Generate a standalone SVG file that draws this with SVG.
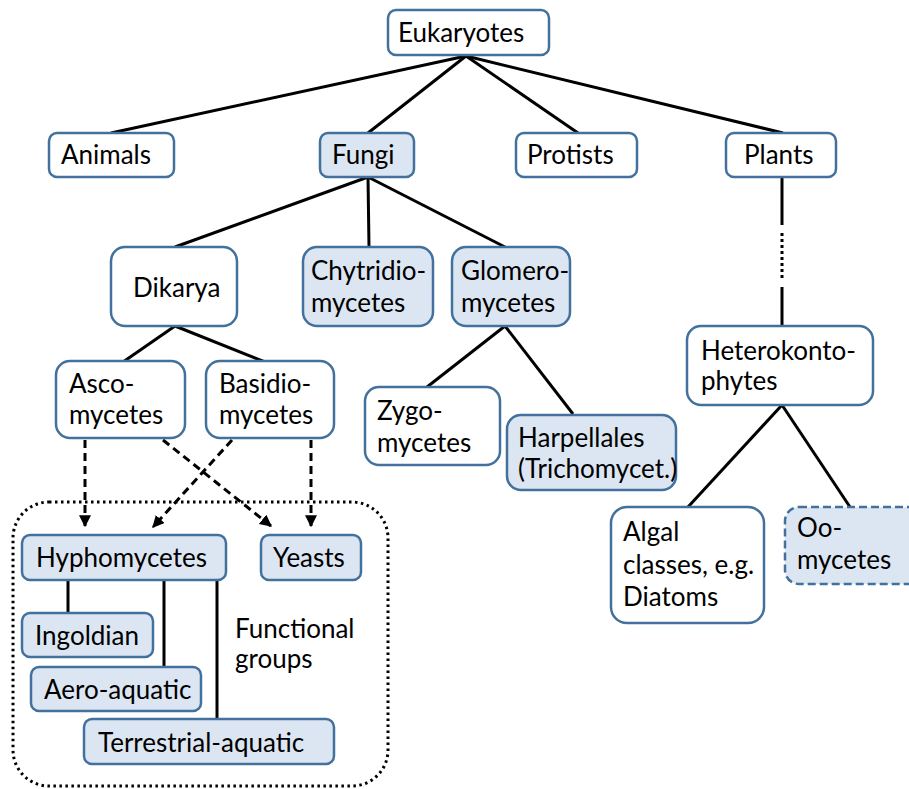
<svg xmlns="http://www.w3.org/2000/svg" width="909" height="789" viewBox="0 0 909 789">
<defs>
<style>
.b{fill:#ffffff;stroke:#41719c;stroke-width:2.5}
.f{fill:#dce6f2;stroke:#41719c;stroke-width:2.5}
.d{fill:#dce6f2;stroke:#41719c;stroke-width:2.5;stroke-dasharray:8 4}
text{font-family:Lato,"Liberation Sans",sans-serif;font-size:26px;fill:#000}
.c line,.c path{stroke:#000;stroke-width:3;fill:none}
.c .da{stroke-dasharray:8 5}
.c .dt{stroke-dasharray:3 3}
</style>
<marker id="ah" viewBox="0 0 10 10" refX="9" refY="5" markerWidth="4" markerHeight="4" orient="auto" markerUnits="strokeWidth">
<path d="M0,0 L10,5 L0,10 z" fill="#000"/>
</marker>
</defs>
<rect width="909" height="789" fill="#fff"/>

<g id="container">
<rect x="13" y="502" width="375" height="284" rx="36" fill="none" stroke="#000" stroke-width="3" stroke-dasharray="2.5 3.5"/>
<text x="235" y="638">Functional</text>
<text x="235" y="668">groups</text>
</g>

<g class="c" id="connectors">
<line x1="466" y1="56" x2="111" y2="133"/>
<line x1="466" y1="56" x2="368" y2="133"/>
<line x1="466" y1="56" x2="578" y2="133"/>
<line x1="466" y1="56" x2="783" y2="133"/>
<line x1="368" y1="177" x2="175" y2="247"/>
<line x1="368" y1="177" x2="369" y2="247"/>
<line x1="368" y1="177" x2="505" y2="247"/>
<line x1="175" y1="326" x2="123" y2="362"/>
<line x1="175" y1="326" x2="265" y2="362"/>
<line x1="505" y1="326" x2="427" y2="387"/>
<line x1="505" y1="326" x2="573" y2="414"/>
<line x1="782" y1="178" x2="782" y2="225"/>
<line class="dt" x1="782" y1="233" x2="782" y2="280"/>
<line x1="782" y1="287" x2="782" y2="326"/>
<line x1="782" y1="405" x2="688" y2="507"/>
<line x1="782" y1="405" x2="850" y2="507"/>
<line x1="68" y1="581" x2="68" y2="613"/>
<line x1="164" y1="581" x2="164" y2="667"/>
<line x1="217" y1="578" x2="217" y2="719"/>
<line class="da" x1="85" y1="440" x2="85" y2="526" marker-end="url(#ah)"/>
<line class="da" x1="163" y1="440" x2="271" y2="526" marker-end="url(#ah)"/>
<line class="da" x1="232" y1="440" x2="153" y2="527" marker-end="url(#ah)"/>
<line class="da" x1="311" y1="440" x2="311" y2="526" marker-end="url(#ah)"/>
</g>

<g id="eukaryotes"><rect class="b" x="388" y="10" width="161" height="45" rx="8"/><text x="398" y="42">Eukaryotes</text></g>
<g id="animals"><rect class="b" x="49" y="133" width="125" height="44" rx="8"/><text x="61" y="164">Animals</text></g>
<g id="fungi"><rect class="f" x="320" y="133" width="94" height="44" rx="8"/><text x="332" y="164">Fungi</text></g>
<g id="protists"><rect class="b" x="516" y="133" width="121" height="44" rx="8"/><text x="527" y="164">Protists</text></g>
<g id="plants"><rect class="b" x="726" y="133" width="110" height="44" rx="8"/><text x="744" y="164">Plants</text></g>

<g id="dikarya"><rect class="b" x="111" y="247" width="126" height="79" rx="14"/><text x="133" y="297">Dikarya</text></g>
<g id="chytridiomycetes"><rect class="f" x="303" y="247" width="130" height="79" rx="14"/><text x="311" y="280">Chytridio-</text><text x="311" y="312">mycetes</text></g>
<g id="glomeromycetes"><rect class="f" x="452" y="247" width="118" height="79" rx="14"/><text x="461" y="280">Glomero-</text><text x="461" y="312">mycetes</text></g>

<g id="ascomycetes"><rect class="b" x="56" y="361" width="129" height="77" rx="14"/><text x="69" y="393">Asco-</text><text x="69" y="424">mycetes</text></g>
<g id="basidiomycetes"><rect class="b" x="206" y="361" width="128" height="77" rx="14"/><text x="219" y="393">Basidio-</text><text x="219" y="424">mycetes</text></g>
<g id="zygomycetes"><rect class="b" x="365" y="387" width="135" height="78" rx="14"/><text x="377" y="420">Zygo-</text><text x="377" y="452">mycetes</text></g>
<g id="harpellales"><rect class="f" x="507" y="415" width="169" height="75" rx="14"/><text x="518" y="447">Harpellales</text><text x="518" y="478">(Trichomycet.)</text></g>
<g id="heterokontophytes"><rect class="b" x="687" y="326" width="186" height="79" rx="14"/><text x="701" y="360">Heterokonto-</text><text x="701" y="390">phytes</text></g>
<g id="algal"><rect class="b" x="611" y="507" width="153" height="116" rx="16"/><text x="623" y="541">Algal</text><text x="623" y="574">classes, e.g.</text><text x="623" y="606">Diatoms</text></g>
<g id="oomycetes"><rect class="d" x="785" y="507" width="140" height="77" rx="14"/><text x="797" y="537">Oo-</text><text x="797" y="569">mycetes</text></g>

<g id="hyphomycetes"><rect class="f" x="22" y="535" width="204" height="45" rx="8"/><text x="36" y="567">Hyphomycetes</text></g>
<g id="yeasts"><rect class="f" x="261" y="535" width="100" height="45" rx="8"/><text x="273" y="567">Yeasts</text></g>
<g id="ingoldian"><rect class="f" x="22" y="613" width="131" height="44" rx="8"/><text x="35" y="645">Ingoldian</text></g>
<g id="aero-aquatic"><rect class="f" x="31" y="667" width="170" height="44" rx="8"/><text x="44" y="699">Aero-aquatic</text></g>
<g id="terrestrial-aquatic"><rect class="f" x="84" y="719" width="250" height="45" rx="8"/><text x="98" y="752">Terrestrial-aquatic</text></g>
</svg>
